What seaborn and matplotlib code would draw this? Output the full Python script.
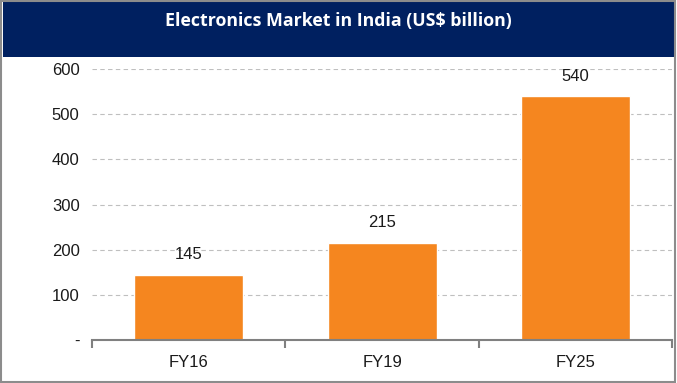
import matplotlib
matplotlib.use("Agg")
import matplotlib.pyplot as plt
from matplotlib.patches import Rectangle
import pandas as pd
import seaborn as sns

# data
years = ["FY16", "FY19", "FY25"]
market_size = [145, 215, 540]
y_ticks = [0, 100, 200, 300, 400, 500, 600]
y_tick_labels = ["-", "100", "200", "300", "400", "500", "600"]
title = "Electronics Market in India (US$ billion)"

df = pd.DataFrame({"year": years, "value": market_size})

sns.set_theme(style="white")
plt.rcParams["font.family"] = ["Liberation Sans", "DejaVu Sans"]

fig = plt.figure(figsize=(6.77, 3.83), dpi=100)
ax = fig.add_axes([0.136, 0.112, 0.857, 0.708])

sns.barplot(data=df, x="year", y="value", color="#F5861F", saturation=1,
            width=0.565, ax=ax)

ax.set_xlim(-0.5, 2.5)
ax.set_ylim(0, 600)
ax.set_yticks(y_ticks)
ax.set_yticklabels(y_tick_labels)
ax.yaxis.grid(True, linestyle=(0, (4, 3)), color="#BFBFBF", linewidth=0.8)
ax.set_axisbelow(True)
ax.set_xlabel("")
ax.set_ylabel("")

# category boundary ticks, labels in between
ax.set_xticks([-0.5, 0.5, 1.5, 2.5])
ax.set_xticklabels([])
ax.set_xticks([0, 1, 2], minor=True)
ax.set_xticklabels(years, minor=True)
ax.tick_params(axis="x", which="major", direction="out", length=6, width=1.5,
               color="#808080", bottom=True)
ax.tick_params(axis="x", which="minor", length=0, pad=11, labelsize=12,
               labelcolor="#1a1a1a")
ax.tick_params(axis="y", length=0, pad=9, labelsize=12, labelcolor="#1a1a1a")

for side in ["left", "right", "top"]:
    ax.spines[side].set_visible(False)
ax.spines["bottom"].set_color("#808080")
ax.spines["bottom"].set_linewidth(1.5)

for i, v in enumerate(market_size):
    ax.annotate(str(v), (i, v), xytext=(0, 9), textcoords="offset points",
                ha="center", va="bottom", fontsize=12, color="#1a1a1a")

# header band and outer frame
fig.patches.append(Rectangle((0.004, 0.851), 0.991, 0.143, transform=fig.transFigure,
                             facecolor="#002060", edgecolor="none", zorder=0))
fig.patches.append(Rectangle((0.002, 0.003), 0.995, 0.994, transform=fig.transFigure,
                             facecolor="none", edgecolor="#8C8C8C", linewidth=1.5))
fig.text(0.5, 0.946, title, ha="center", va="center", color="white",
         fontsize=12.8, fontweight="bold", family=["Open Sans", "DejaVu Sans"])

fig.savefig("out.png", dpi=100)
